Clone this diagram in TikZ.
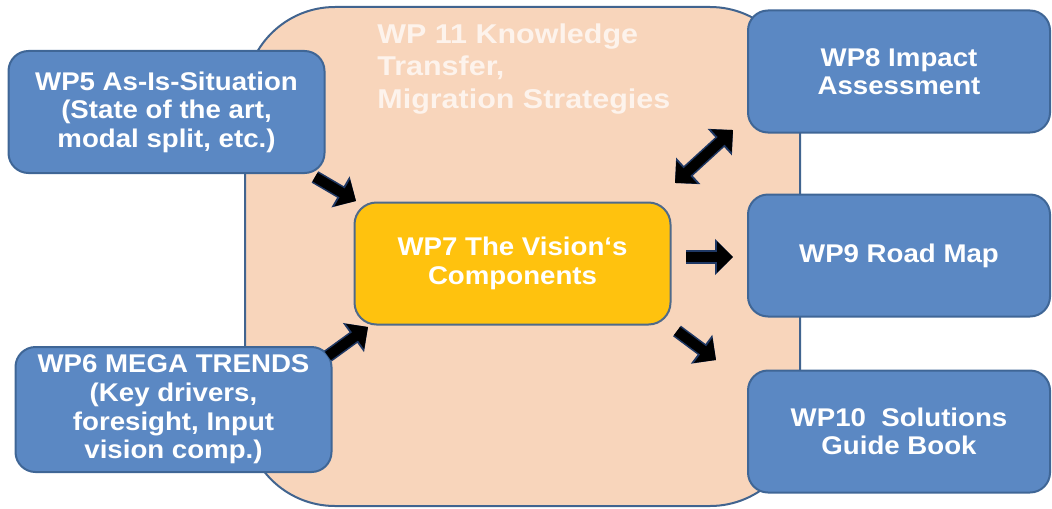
\documentclass[tikz,border=0pt]{standalone}
\usepackage{fontspec}
\setmainfont{Liberation Sans}
\newfontfamily\boxfont[FakeStretch=1.08]{Liberation Sans}
\newfontfamily\wpfont[FakeStretch=1.12]{Liberation Sans}
\usetikzlibrary{arrows.meta,positioning}
\definecolor{peach}{HTML}{F8D5BB}
\definecolor{peachline}{HTML}{41648F}
\definecolor{bluefill}{HTML}{5B88C3}
\definecolor{blueedge}{HTML}{3F6696}
\definecolor{gold}{HTML}{FFC20E}
\definecolor{goldedge}{HTML}{4F6A8A}
\definecolor{arrowedge}{HTML}{1F3864}

\tikzset{
  wpbox/.style={draw=blueedge, line width=1pt, fill=bluefill, rounded corners=10pt,
    text=white, align=center, inner sep=0pt,
    font=\boxfont\fontsize{12.8}{14.3}\selectfont\bfseries,
    minimum width=158pt, minimum height=61pt},
  visionbox/.style={wpbox, draw=goldedge, fill=gold, rounded corners=11pt},
  outerbox/.style={draw=peachline, line width=1pt, fill=peach, rounded corners=45pt,
    minimum width=277.5pt, minimum height=249.5pt},
  blockarrow/.style={line width=5pt, black, -{Triangle[length=8pt,width=15pt]},
    preaction={draw=arrowedge, line width=6.6pt, -{Triangle[length=9pt,width=17.5pt]}}},
  dblarrow/.style={line width=5pt, black, {Triangle[length=8pt,width=15pt]}-{Triangle[length=8pt,width=15pt]},
    preaction={draw=arrowedge, line width=6.6pt, {Triangle[length=9pt,width=17.5pt]}-{Triangle[length=9pt,width=17.5pt]}}}
}

\begin{document}
\begin{tikzpicture}[x=0.5pt,y=-0.5pt,node distance=92pt,on grid]
\useasboundingbox (0,0) rectangle (1052,508);

% WP11 in the background
\node[outerbox]                      (wp11)     at (522.5,256.5)  {};
\node[anchor=north west, align=left, text=white!72!peach, inner sep=0pt,
      font=\wpfont\fontsize{13.6}{16.4}\selectfont\bfseries]
                                     (wp11txt)  at (377,23)       {WP 11 Knowledge\\Transfer,\\Migration Strategies};

% inputs
\node[wpbox]                         (wp5)      at (166.5,112)    {WP5 As-Is-Situation\\(State of the art,\\modal split, etc.)};
\node[wpbox, minimum height=62.5pt]  (wp6)      at (173.5,409.5)  {WP6 MEGA TRENDS\\(Key drivers,\\foresight, Input\\vision comp.)};

% core
\node[visionbox]                     (wp7)      at (512.5,263.5)  {WP7 The Vision‘s\\Components};

% outputs
\node[wpbox, minimum width=151pt]    (wp8)      at (899,71.5)     {WP8 Impact\\Assessment};
\node[wpbox, minimum width=151pt]    (wp9)      [below=of wp8]    {WP9 Road Map};
\node[wpbox, minimum width=151pt]    (wp10)     [below=88pt of wp9] {WP10\ \ Solutions\\Guide Book};

% arrow ends
\coordinate (a5s)  at (315,177);  \coordinate (a5e)  at (356,201);
\coordinate (a6s)  at (328,356);  \coordinate (a6e)  at (368,327);
\coordinate (a8s)  at (675,183);  \coordinate (a8e)  at (733,130);
\coordinate (a9s)  at (686,257);  \coordinate (a9e)  at (733,257);
\coordinate (a10s) at (677,331);  \coordinate (a10e) at (716,360);

\draw[blockarrow] (a5s)  -- (a5e);
\draw[blockarrow] (a6s)  -- (a6e);
\draw[dblarrow]   (a8s)  -- (a8e);
\draw[blockarrow] (a9s)  -- (a9e);
\draw[blockarrow] (a10s) -- (a10e);
\end{tikzpicture}
\end{document}
